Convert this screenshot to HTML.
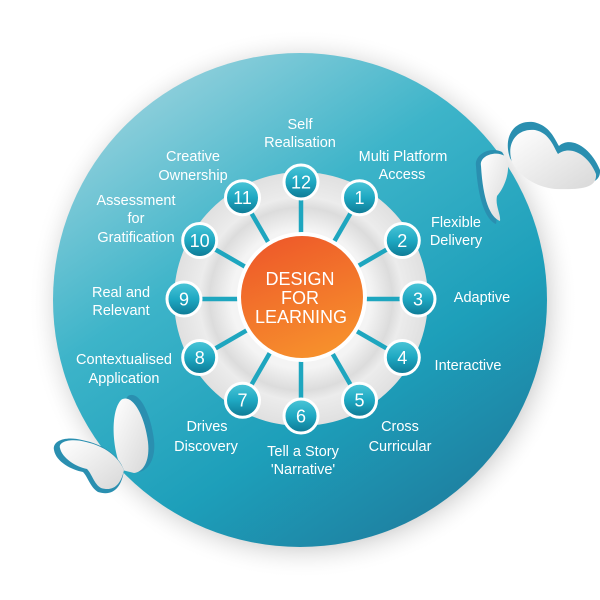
<!DOCTYPE html>
<html><head><meta charset="utf-8"><style>
html,body{margin:0;padding:0;background:#fff;width:600px;height:600px;overflow:hidden}
svg{display:block}
text{font-family:"Liberation Sans",sans-serif;fill:#fff}
</style></head><body>
<svg width="600" height="600" viewBox="0 0 600 600" xmlns="http://www.w3.org/2000/svg">
<defs>
<radialGradient id="shadow" cx="0.5" cy="0.5" r="0.5">
<stop offset="0.85" stop-color="#9a9a9a" stop-opacity="0.55"/>
<stop offset="1" stop-color="#ffffff" stop-opacity="0"/>
</radialGradient>
<linearGradient id="big" x1="0.2" y1="0.05" x2="0.8" y2="0.95">
<stop offset="0" stop-color="#92d0dc"/>
<stop offset="0.35" stop-color="#3db4c9"/>
<stop offset="0.7" stop-color="#1d9fba"/>
<stop offset="1" stop-color="#1e7fa0"/>
</linearGradient>
<radialGradient id="ring" cx="0.5" cy="0.5" r="0.5">
<stop offset="0.55" stop-color="#f4f4f4"/>
<stop offset="0.72" stop-color="#dcdcdc"/>
<stop offset="0.8" stop-color="#ececec"/>
<stop offset="1" stop-color="#e0e0e0"/>
</radialGradient>
<linearGradient id="orange" x1="0.3" y1="0" x2="0.7" y2="1">
<stop offset="0" stop-color="#ee5a2a"/>
<stop offset="1" stop-color="#f7922c"/>
</linearGradient>
<linearGradient id="node" x1="0" y1="0" x2="0" y2="1">
<stop offset="0" stop-color="#4cc6d8"/>
<stop offset="0.5" stop-color="#1ea8c2"/>
<stop offset="1" stop-color="#0e7893"/>
</linearGradient>
<linearGradient id="wing" x1="0" y1="0" x2="1" y2="1">
<stop offset="0" stop-color="#ffffff"/>
<stop offset="1" stop-color="#d8d8d8"/>
</linearGradient>
</defs>
<circle cx="303" cy="304" r="275" fill="url(#shadow)"/>
<circle cx="300" cy="300" r="247" fill="url(#big)"/>

<circle cx="301" cy="299" r="127" fill="url(#ring)"/>
<g stroke="#1ea6bf" stroke-width="4.5">
<line x1="301" y1="299" x2="301" y2="182"/>
<line x1="301" y1="299" x2="359.5" y2="197.7"/>
<line x1="301" y1="299" x2="402.3" y2="240.5"/>
<line x1="301" y1="299" x2="418" y2="299"/>
<line x1="301" y1="299" x2="402.3" y2="357.5"/>
<line x1="301" y1="299" x2="359.5" y2="400.3"/>
<line x1="301" y1="299" x2="301" y2="416"/>
<line x1="301" y1="299" x2="242.5" y2="400.3"/>
<line x1="301" y1="299" x2="199.7" y2="357.5"/>
<line x1="301" y1="299" x2="184" y2="299"/>
<line x1="301" y1="299" x2="199.7" y2="240.5"/>
<line x1="301" y1="299" x2="242.5" y2="197.7"/>
</g>
<circle cx="302" cy="297" r="65" fill="#fff"/>
<circle cx="302" cy="297" r="61" fill="url(#orange)"/>
<g font-size="18" text-anchor="middle" style="fill:#fde9dc">
<text x="300" y="285">DESIGN</text>
<text x="300" y="304">FOR</text>
<text x="301" y="323">LEARNING</text>
</g>

<g stroke="#fff" stroke-width="3" fill="url(#node)">
<circle cx="301" cy="182" r="17"/>
<circle cx="359.5" cy="197.7" r="17"/>
<circle cx="402.3" cy="240.5" r="17"/>
<circle cx="418" cy="299" r="17"/>
<circle cx="402.3" cy="357.5" r="17"/>
<circle cx="359.5" cy="400.3" r="17"/>
<circle cx="301" cy="416" r="17"/>
<circle cx="242.5" cy="400.3" r="17"/>
<circle cx="199.7" cy="357.5" r="17"/>
<circle cx="184" cy="299" r="17"/>
<circle cx="199.7" cy="240.5" r="17"/>
<circle cx="242.5" cy="197.7" r="17"/>
</g>
<g font-size="18" text-anchor="middle">
<text x="301" y="188.5">12</text>
<text x="359.5" y="204">1</text>
<text x="402.3" y="247">2</text>
<text x="418" y="305.5">3</text>
<text x="402.3" y="364">4</text>
<text x="359.5" y="406.5">5</text>
<text x="301" y="422.5">6</text>
<text x="242.5" y="406.5">7</text>
<text x="199.7" y="364">8</text>
<text x="184" y="305.5">9</text>
<text x="199.7" y="247">10</text>
<text x="242.5" y="204">11</text>
</g>

<g font-size="14.5" text-anchor="middle">
<text x="300" y="129">Self</text>
<text x="300" y="147">Realisation</text>
<text x="193" y="161">Creative</text>
<text x="193" y="180">Ownership</text>
<text x="403" y="161">Multi Platform</text>
<text x="402" y="179">Access</text>
<text x="136" y="205">Assessment</text>
<text x="136" y="223">for</text>
<text x="136" y="242">Gratification</text>
<text x="456" y="227">Flexible</text>
<text x="456" y="245">Delivery</text>
<text x="482" y="302">Adaptive</text>
<text x="121" y="297">Real and</text>
<text x="121" y="315">Relevant</text>
<text x="468" y="370">Interactive</text>
<text x="124" y="364">Contextualised</text>
<text x="124" y="383">Application</text>
<text x="400" y="431">Cross</text>
<text x="400" y="451">Curricular</text>
<text x="207" y="431">Drives</text>
<text x="206" y="451">Discovery</text>
<text x="303" y="456">Tell a Story</text>
<text x="303" y="474">'Narrative'</text>
</g>

<!-- right butterfly -->
<g>
<path d="M510,158 C503,138 513,120 533,122 C550,125 555,140 559,146 C570,136 590,146 600,170 C601,184 586,186 555,184 C535,182 516,170 510,158 Z" fill="#2a8fb0"/>
<path d="M512,162 C506,144 516,128 535,130 C550,133 554,148 558,154 C570,145 588,154 596,174 C597,187 584,190 555,189 C535,187 518,175 512,162 Z" fill="url(#wing)"/>
<path d="M476,166 C474,154 491,146 502,152 C510,162 503,184 494,194 C492,205 498,215 496,224 C486,220 478,200 476,166 Z" fill="#2a8fb0"/>
<path d="M481,166 C479,156 495,150 505,156 C512,166 506,186 497,196 C495,206 501,214 500,221 C490,217 483,200 481,166 Z" fill="url(#wing)"/>
</g>
<!-- left butterfly -->
<g>
<path d="M126,470 C116,450 116,410 128,396 C138,390 150,410 154,440 C156,458 149,470 139,472 Z" fill="#2a8fb0"/>
<path d="M122,470 C112,450 110,412 121,400 C131,393 144,412 148,442 C150,460 144,472 134,473 Z" fill="url(#wing)"/>
<path d="M54,450 C52,440 67,436 82,440 C102,444 118,454 124,470 C122,486 114,497 98,492 C90,487 88,477 83,472 C72,470 56,462 54,450 Z" fill="#2a8fb0"/>
<path d="M60,448 C58,441 72,438 86,442 C104,446 118,456 124,470 C121,484 114,492 101,488 C94,484 92,474 87,469 C76,467 62,458 60,448 Z" fill="url(#wing)"/>
</g>
</svg>
</body></html>
